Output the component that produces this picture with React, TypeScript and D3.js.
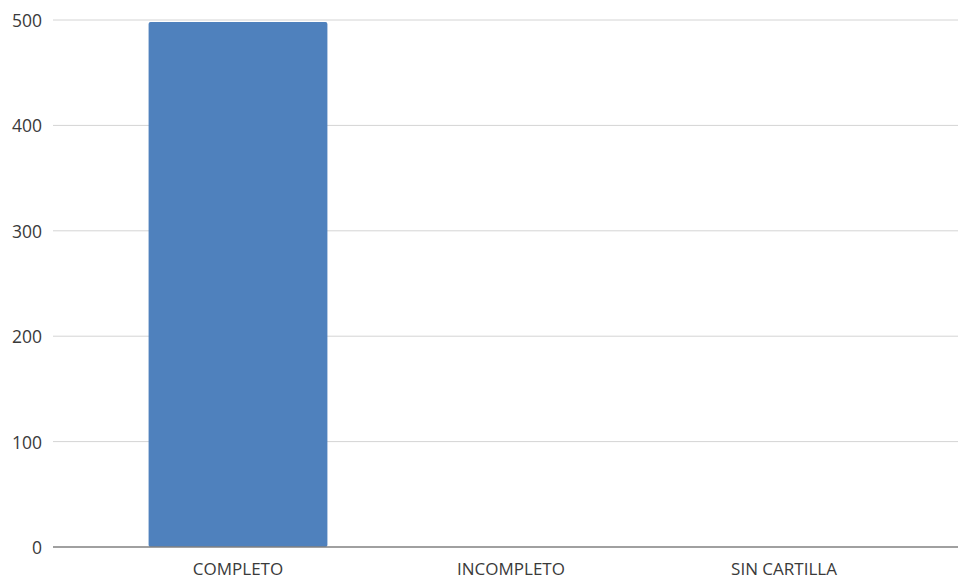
import React from "react";
import * as d3 from "d3";

const categories = ["COMPLETO", "INCOMPLETO", "SIN CARTILLA"];
const values = [498, 0, 0];
const yTicks = [0, 100, 200, 300, 400, 500];

const W = 959;
const H = 579;

export default function App() {
  const y = d3.scaleLinear().domain([0, 500]).range([547, 20]);
  const x = d3.scaleBand<string>().domain(categories).range([101.5, 920.5]).padding(0);
  const barFrac = 0.655;
  const bw = x.bandwidth() * barFrac;
  const font = "'Open Sans', 'Noto Sans', sans-serif";
  return (
    <svg width={W} height={H} style={{ position: "absolute", left: 0, top: 0 }}>
      <rect width={W} height={H} fill="#fff" />
      {yTicks.map((t) => (
        <g key={t}>
          {t !== 0 && (
            <line x1={53} x2={958} y1={y(t)} y2={y(t)} stroke="#d4d4d4" strokeWidth={1} />
          )}
          <text
            x={42}
            y={y(t)}
            textAnchor="end"
            dominantBaseline="central"
            fontFamily={font}
            fontSize={17.5}
            fill="#3a3a3a"
          >
            {t}
          </text>
        </g>
      ))}
      {categories.map((c, i) => (
        <rect
          key={c}
          x={(x(c) as number) + (x.bandwidth() - bw) / 2}
          y={y(values[i])}
          width={bw}
          height={y(0) - y(values[i])}
          fill="#4f81bd"
          rx={2}
        />
      ))}
      <line x1={53} x2={958} y1={y(0)} y2={y(0)} stroke="#808080" strokeWidth={1.5} />
      {categories.map((c) => (
        <text
          key={c}
          x={(x(c) as number) + x.bandwidth() / 2}
          y={568}
          textAnchor="middle"
          dominantBaseline="central"
          fontFamily={font}
          fontSize={17}
          fill="#3a3a3a"
        >
          {c}
        </text>
      ))}
    </svg>
  );
}
